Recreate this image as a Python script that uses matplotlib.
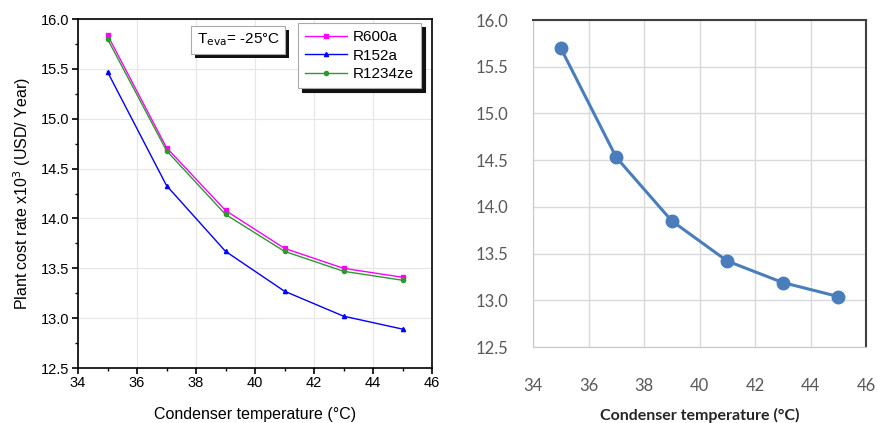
import matplotlib.pyplot as plt
import matplotlib.patheffects as pe
from matplotlib.ticker import MultipleLocator

plt.rcParams['font.family'] = ['Liberation Sans', 'DejaVu Sans']

# data
temp_c = [35, 37, 39, 41, 43, 45]
r600a = [15.84, 14.71, 14.08, 13.70, 13.50, 13.41]
r152a = [15.47, 14.33, 13.67, 13.27, 13.02, 12.89]
r1234ze = [15.80, 14.68, 14.04, 13.67, 13.47, 13.38]
right_cost = [15.70, 14.53, 13.85, 13.42, 13.19, 13.04]

x_ticks = [34, 36, 38, 40, 42, 44, 46]
y_ticks = [12.5, 13.0, 13.5, 14.0, 14.5, 15.0, 15.5, 16.0]

fig = plt.figure(figsize=(8.79, 4.23), dpi=100)

#Left panel (Origin style)
ax1 = fig.add_axes([78/879, 1 - 368/423, 354/879, 349/423])

ax1.plot(temp_c, r600a, color='#ff00ff', marker='s', ms=3, lw=1.0, label='R600a')
ax1.plot(temp_c, r152a, color='#0000ff', marker='^', ms=3, lw=1.0, label='R152a')
ax1.plot(temp_c, r1234ze, color='#2e9a2e', marker='o', ms=3, lw=1.0, label='R1234ze')

ax1.set_xlim(34, 46)
ax1.set_ylim(12.5, 16.0)
ax1.set_xticks(x_ticks)
ax1.set_yticks(y_ticks)
ax1.set_yticklabels([f'{v:.1f}' for v in y_ticks])
ax1.xaxis.set_minor_locator(MultipleLocator(1))
ax1.yaxis.set_minor_locator(MultipleLocator(0.25))
ax1.tick_params(which='major', direction='out', length=4, width=1.2, labelsize=10.5, pad=2)
ax1.tick_params(which='minor', direction='out', length=2.5, width=1.0)
for s in ax1.spines.values():
    s.set_linewidth(1.2)
ax1.grid(True, color='#e6e6e6', lw=0.8)
ax1.set_axisbelow(True)

ax1.set_xlabel('Condenser temperature (°C)', fontsize=11.5, labelpad=12)
ax1.set_ylabel('Plant cost rate x10$^{3}$ (USD/ Year)', fontsize=11.5, labelpad=6)

leg = ax1.legend(loc='upper right', bbox_to_anchor=(0.99, 1.01), fancybox=False,
                 shadow={'color': '#111111', 'alpha': 1.0, 'ox': 3, 'oy': -3},
                 edgecolor='#aaaaaa', handlelength=2.8, handletextpad=0.35,
                 borderpad=0.45, labelspacing=0.3, prop={'size': 11})
leg.get_frame().set_linewidth(0.8)

# text box with a dark shadow
t = ax1.text(0.335, 0.94, 'T$_{\\mathrm{eva}}$= -25°C', transform=ax1.transAxes, fontsize=11,
             va='center', ha='left', zorder=5,
             bbox=dict(boxstyle='square,pad=0.35', fc='white', ec='#aaaaaa', lw=0.8))
t.get_bbox_patch().set_path_effects([
    pe.SimplePatchShadow(offset=(3, -3), shadow_rgbFace='#111111', alpha=1.0), pe.Normal()])

#Right panel (Excel style)
ax2 = fig.add_axes([533/879, 1 - 347/423, 333/879, 327/423])
ax2.plot(temp_c, right_cost, color='#4a7ebb', lw=2.2, marker='o', ms=9, zorder=3)
ax2.set_xlim(34, 46)
ax2.set_ylim(12.5, 16.0)
ax2.set_xticks(x_ticks)
ax2.set_yticks(y_ticks)
ax2.set_yticklabels([f'{v:.1f}' for v in y_ticks])
ax2.tick_params(length=0, labelsize=12, labelcolor='#595959', labelfontfamily='Lato')
ax2.tick_params(axis='x', pad=22)
ax2.tick_params(axis='y', pad=18)
ax2.grid(True, color='#d9d9d9', lw=1.0)
ax2.set_axisbelow(True)
ax2.spines['left'].set_color('#c8c8c8')
ax2.spines['bottom'].set_color('#c8c8c8')
ax2.spines['top'].set_color('#404040')
ax2.spines['right'].set_color('#404040')
ax2.spines['top'].set_linewidth(1.5)
ax2.spines['right'].set_linewidth(1.5)
ax2.set_xlabel('Condenser temperature (°C)', fontsize=11.5, family='Lato',
               fontweight='bold', color='#262626', labelpad=10)

fig.savefig('out.png', dpi=100)
